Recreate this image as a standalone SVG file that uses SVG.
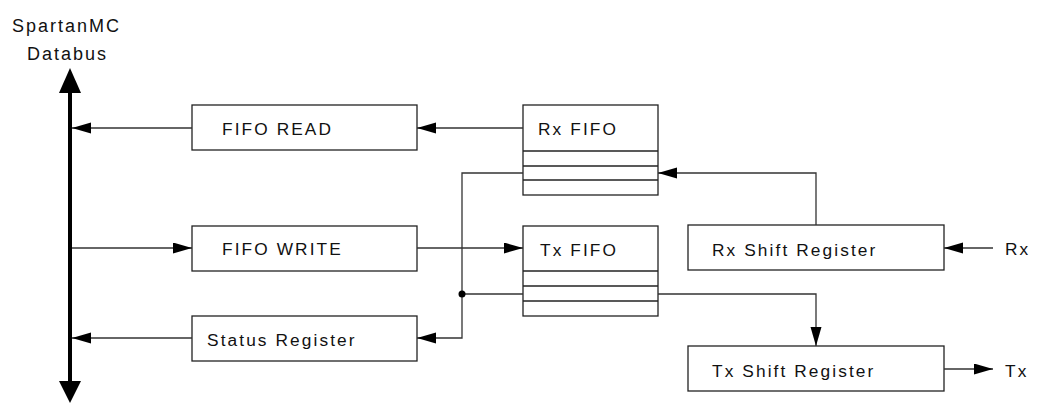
<svg xmlns="http://www.w3.org/2000/svg" width="1039" height="403" viewBox="0 0 1039 403">
<style>
.box{fill:#fff;stroke:#222;stroke-width:1.3}
.ln{fill:none;stroke:#333;stroke-width:1.3}
.t{font-family:"Liberation Sans",Arial,sans-serif;font-size:17.3px;letter-spacing:2.1px;fill:#111}
.h{font-family:"Liberation Sans",Arial,sans-serif;font-size:18px;letter-spacing:2px;fill:#111}
</style>
<defs>
<marker id="ah" markerUnits="userSpaceOnUse" markerWidth="20" markerHeight="12" refX="19" refY="5.5" orient="auto">
<path d="M0,0 L19,5.5 L0,11 Z" fill="#000"/>
</marker>
</defs>
<g id="bus">
<text class="h" x="12" y="32">SpartanMC</text>
<text class="h" x="27" y="60">Databus</text>
<line x1="70" y1="90" x2="70" y2="384" stroke="#000" stroke-width="4"/>
<polygon points="70,68 81,93 59,93" fill="#000"/>
<polygon points="70,403 81,381 59,381" fill="#000"/>
</g>
<g id="fifo-read"><rect class="box" x="192" y="105" width="225" height="45"/><text class="t" x="222" y="135">FIFO READ</text></g>
<g id="fifo-write"><rect class="box" x="192" y="226" width="225" height="45"/><text class="t" x="222" y="255">FIFO WRITE</text></g>
<g id="status-register"><rect class="box" x="192" y="316" width="225" height="45"/><text class="t" x="207" y="346">Status Register</text></g>
<g id="rx-fifo"><rect class="box" x="523" y="105" width="135" height="90"/>
<line class="box" x1="523" y1="151" x2="658" y2="151"/><line class="box" x1="523" y1="166" x2="658" y2="166"/><line class="box" x1="523" y1="180" x2="658" y2="180"/>
<text class="t" x="538" y="135">Rx FIFO</text></g>
<g id="tx-fifo"><rect class="box" x="523" y="226" width="135" height="90"/>
<line class="box" x1="523" y1="271" x2="658" y2="271"/><line class="box" x1="523" y1="286" x2="658" y2="286"/><line class="box" x1="523" y1="301" x2="658" y2="301"/>
<text class="t" x="540" y="256">Tx FIFO</text></g>
<g id="rx-shift"><rect class="box" x="688" y="225" width="256" height="45"/><text class="t" x="712" y="256">Rx Shift Register</text></g>
<g id="tx-shift"><rect class="box" x="688" y="346" width="256" height="45"/><text class="t" x="712" y="377">Tx Shift Register</text></g>
<g id="rx-pin"><text class="t" x="1005" y="255">Rx</text></g>
<g id="tx-pin"><text class="t" x="1005" y="377">Tx</text></g>
<g id="connectors">
<line class="ln" x1="523" y1="128" x2="417" y2="128" marker-end="url(#ah)"/>
<line class="ln" x1="192" y1="128" x2="72" y2="128" marker-end="url(#ah)"/>
<line class="ln" x1="72" y1="248" x2="192" y2="248" marker-end="url(#ah)"/>
<line class="ln" x1="417" y1="248" x2="523" y2="248" marker-end="url(#ah)"/>
<polyline class="ln" points="523,173 462,173 462,338 417,338" marker-end="url(#ah)"/>
<line class="ln" x1="192" y1="338" x2="72" y2="338" marker-end="url(#ah)"/>
<polyline class="ln" points="816,225 816,173 658,173" marker-end="url(#ah)"/>
<line class="ln" x1="993" y1="248" x2="944" y2="248" marker-end="url(#ah)"/>
<line class="ln" x1="462" y1="294" x2="523" y2="294"/>
<polyline class="ln" points="658,294 816,294 816,346" marker-end="url(#ah)"/>
<circle cx="462" cy="294" r="3.5" fill="#000"/>
<line class="ln" x1="944" y1="369" x2="993" y2="369" marker-end="url(#ah)"/>
</g>
</svg>
